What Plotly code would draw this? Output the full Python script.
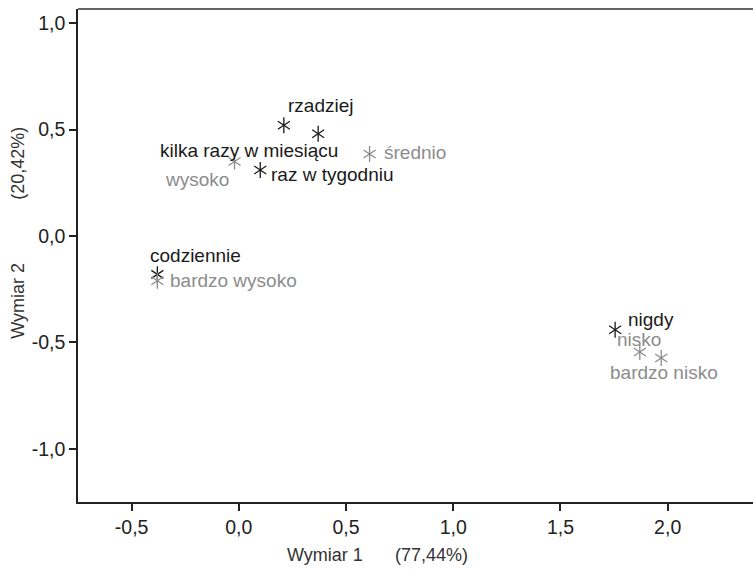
import plotly.graph_objects as go

# Row categories (frequency) - black
freq_labels = ["rzadziej", "kilka razy w miesiącu", "raz w tygodniu", "codziennie", "nigdy"]
freq_x = [0.21, 0.37, 0.10, -0.38, 1.755]
freq_y = [0.52, 0.48, 0.31, -0.18, -0.44]

# Column categories (level) - gray
level_labels = ["wysoko", "średnio", "bardzo wysoko", "nisko", "bardzo nisko"]
level_x = [-0.02, 0.61, -0.38, 1.87, 1.97]
level_y = [0.35, 0.385, -0.21, -0.545, -0.573]

x_ticks = [-0.5, 0.0, 0.5, 1.0, 1.5, 2.0]
x_tick_text = ["-0,5", "0,0", "0,5", "1,0", "1,5", "2,0"]
y_ticks = [-1.0, -0.5, 0.0, 0.5, 1.0]
y_tick_text = ["-1,0", "-0,5", "0,0", "0,5", "1,0"]

BLACK = "#1a1a1a"
GRAY = "#8c8c8c"
FONT = "Liberation Sans, Arial, sans-serif"

fig = go.Figure()
for xs, ys, col in [(freq_x, freq_y, BLACK), (level_x, level_y, GRAY)]:
    for sym in ["y-up-open", "y-down-open"]:
        fig.add_trace(go.Scatter(
            x=xs, y=ys, mode="markers", showlegend=False, hoverinfo="skip",
            marker=dict(symbol=sym, size=10, color=col, line=dict(color=col, width=1.3)),
        ))

# label placements: (xanchor, xshift, yshift)
freq_pos = [("left", 2, 20), ("right", 22, -17), ("left", 9, -4), ("left", -9, 19), ("left", 11, 10)]
level_pos = [("right", -4, -18), ("left", 12, 2), ("left", 11, 0), ("left", -25, 13), ("center", 3, -14)]

for labels, xs, ys, pos, col in [(freq_labels, freq_x, freq_y, freq_pos, BLACK),
                                 (level_labels, level_x, level_y, level_pos, GRAY)]:
    for lab, x, y, (xa, xs_, ys_) in zip(labels, xs, ys, pos):
        fig.add_annotation(x=x, y=y, text=lab, showarrow=False, xanchor=xa, yanchor="middle",
                           xshift=xs_, yshift=ys_, font=dict(family=FONT, size=19, color=col))

# axis titles
fig.add_annotation(xref="paper", yref="paper", x=0.366, y=-0.1075, text="Wymiar 1", showarrow=False,
                   xanchor="center", yanchor="middle", font=dict(family=FONT, size=18, color="#333"))
fig.add_annotation(xref="paper", yref="paper", x=0.524, y=-0.1075, text="(77,44%)", showarrow=False,
                   xanchor="center", yanchor="middle", font=dict(family=FONT, size=18, color="#333"))
fig.add_annotation(xref="paper", yref="paper", x=-0.0889, y=0.408, text="Wymiar 2", showarrow=False,
                   textangle=-90, xanchor="center", yanchor="middle", font=dict(family=FONT, size=18, color="#333"))
fig.add_annotation(xref="paper", yref="paper", x=-0.0889, y=0.688, text="(20,42%)", showarrow=False,
                   textangle=-90, xanchor="center", yanchor="middle", font=dict(family=FONT, size=18, color="#333"))

# top border line
fig.add_shape(type="line", xref="paper", yref="paper", x0=0, x1=1, y0=1, y1=1,
              line=dict(color="#333", width=1.5))

fig.update_layout(
    width=753, height=570,
    margin=dict(l=78, r=0, t=9, b=68),
    plot_bgcolor="white", paper_bgcolor="white",
    font=dict(family=FONT, size=18, color="#222"),
)
fig.update_xaxes(range=[-0.75, 2.398], tickvals=x_ticks, ticktext=x_tick_text, showgrid=False, zeroline=False,
                 showline=True, linecolor="#222", linewidth=1.5, ticks="outside", ticklen=7, tickwidth=2,
                 tickcolor="#222", tickfont=dict(family=FONT, size=19.5, color="#222"))
fig.update_yaxes(range=[-1.249, 1.066], tickvals=y_ticks, ticktext=y_tick_text, showgrid=False, zeroline=False,
                 showline=True, linecolor="#222", linewidth=1.5, ticks="outside", ticklen=7, tickwidth=2,
                 tickcolor="#222", tickfont=dict(family=FONT, size=19.5, color="#222"))

fig.write_html("out.html")
